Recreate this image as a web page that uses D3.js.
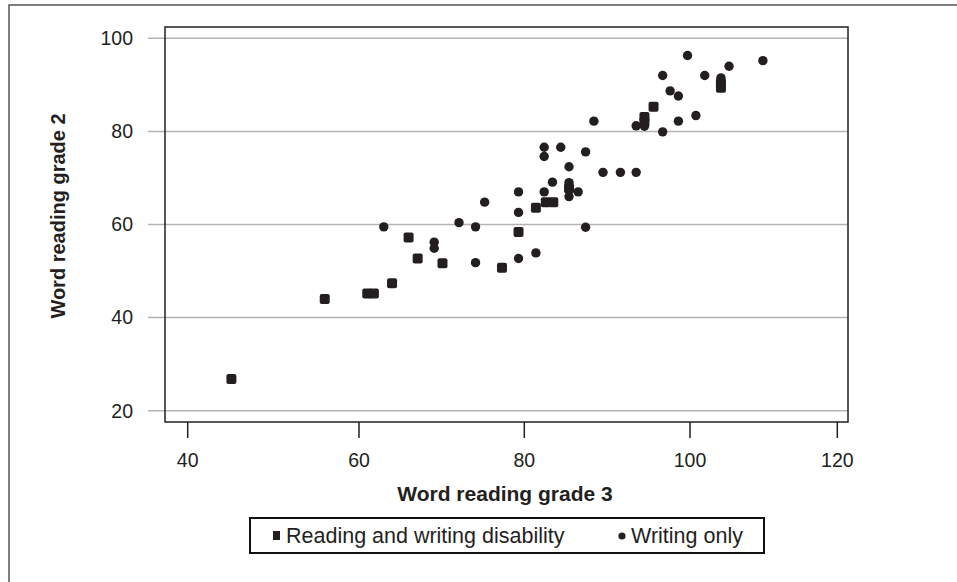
<!DOCTYPE html>
<html lang="en">
<head>
  <meta charset="UTF-8">
  <title>Word reading grade 2 vs grade 3</title>
  <script src="https://d3js.org/d3.v7.min.js"></script>
  <style>
    body { margin: 0; background: #fff; }
    svg { display: block; font-family: "Liberation Sans", Arial, sans-serif; fill: #231f20; }
    .grid line { stroke: #b3b3b3; stroke-width: 1.5px; }
    .frame { fill: none; stroke: #555; stroke-width: 1.5px; }
    .box { fill: none; stroke: #231f20; stroke-width: 1.5px; }
    .tick-x line { stroke: #231f20; stroke-width: 1.5px; }
    .tick-label { font-size: 19.5px; }
    .title { font-size: 20px; font-weight: bold; }
    .title.x-title { font-size: 21px; }
    .legend rect.bg { fill: #fff; stroke: #111; stroke-width: 2px; }
    .legend text { font-size: 21.5px; }
  </style>
</head>
<body>
  <script>
    const xTicks = [40, 60, 80, 100, 120];
    const yTicks = [20, 40, 60, 80, 100];

    // Reading and writing disability (squares)
    const rwdGrade3 = [45.1, 56.0, 61.0, 61.8, 64.0, 66.0, 67.1, 70.1, 77.3, 79.3, 81.4, 82.6, 83.5, 85.4, 94.5, 94.5, 95.6, 104.2, 104.2];
    const rwdGrade2 = [26.8, 44.0, 45.2, 45.2, 47.4, 57.2, 52.7, 51.7, 50.7, 58.4, 63.6, 64.8, 64.8, 67.8, 83.1, 82.0, 85.3, 90.4, 89.4];

    // Writing only (circles)
    const woGrade3 = [63.0, 69.1, 69.1, 72.1, 74.1, 74.1, 75.2, 79.3, 81.4, 87.4, 79.3, 79.3, 82.4, 83.4, 85.4, 86.5, 85.4, 82.4, 82.4, 84.4,
      87.4, 89.5, 91.6, 93.5, 88.4, 93.5, 94.5, 96.7, 98.6, 100.8, 97.6, 98.6, 96.7, 102.0, 99.7, 105.3, 109.9, 104.2, 85.4];
    const woGrade2 = [59.5, 56.2, 54.9, 60.4, 59.5, 51.8, 64.8, 52.7, 53.9, 59.4, 62.6, 67.0, 67.0, 69.1, 66.0, 67.0, 72.4, 76.6, 74.6, 76.6,
      75.6, 71.2, 71.2, 71.2, 82.2, 81.2, 81.1, 79.9, 82.2, 83.4, 88.7, 87.6, 92.0, 92.0, 96.3, 94.0, 95.2, 91.5, 69.0];

    const legendLabels = ["Reading and writing disability", "Writing only"];

    const width = 957, height = 582;
    const box = { left: 165, top: 27, right: 848, bottom: 422 };

    const svg = d3.select("body").append("svg")
      .attr("width", width)
      .attr("height", height);

    // the printed x axis is not evenly spaced, so map each tick to where it sits
    const x = d3.scaleLinear().domain(xTicks).range([187.7, 359, 524.3, 690, 837.3]);
    const y = d3.scaleLinear().domain([20, 100]).range([410.7, 38.3]);

    // outer frame (only top and left edges show)
    svg.append("path").attr("class", "frame").attr("d", `M9,${height} V5 H${width}`);

    // grid lines, which also act as the y ticks
    svg.append("g").attr("class", "grid")
      .selectAll("line").data(yTicks).join("line")
      .attr("x1", 148).attr("x2", box.right)
      .attr("y1", d => y(d)).attr("y2", d => y(d));

    svg.append("g")
      .selectAll("text").data(yTicks).join("text")
      .attr("class", "tick-label")
      .attr("x", 133).attr("y", d => y(d))
      .attr("dy", "0.35em")
      .attr("text-anchor", "end")
      .text(d => d);

    svg.append("rect").attr("class", "box")
      .attr("x", box.left).attr("y", box.top)
      .attr("width", box.right - box.left).attr("height", box.bottom - box.top);

    const xt = svg.append("g").attr("class", "tick-x")
      .selectAll("g").data(xTicks).join("g")
      .attr("transform", d => `translate(${x(d)},0)`);
    xt.append("line").attr("y1", box.bottom).attr("y2", box.bottom + 16);
    xt.append("text").attr("class", "tick-label")
      .attr("y", 467).attr("text-anchor", "middle")
      .text(d => d);

    // axis titles
    svg.append("text").attr("class", "title x-title")
      .attr("x", 505).attr("y", 501).attr("text-anchor", "middle")
      .text("Word reading grade 3");

    svg.append("text").attr("class", "title")
      .attr("transform", "translate(65,216) rotate(-90)")
      .attr("text-anchor", "middle")
      .text("Word reading grade 2");

    // points
    const squares = rwdGrade3.map((v, i) => [v, rwdGrade2[i]]);
    const circles = woGrade3.map((v, i) => [v, woGrade2[i]]);

    svg.append("g").selectAll("rect").data(squares).join("rect")
      .attr("x", d => x(d[0]) - 5).attr("y", d => y(d[1]) - 5)
      .attr("width", 10).attr("height", 10).attr("rx", 2);

    svg.append("g").selectAll("circle").data(circles).join("circle")
      .attr("cx", d => x(d[0])).attr("cy", d => y(d[1]))
      .attr("r", 4.7);

    // legend
    const lg = svg.append("g").attr("class", "legend");
    lg.append("rect").attr("class", "bg")
      .attr("x", 250).attr("y", 518).attr("width", 514).attr("height", 35);
    lg.append("rect").attr("x", 273).attr("y", 531).attr("width", 7).attr("height", 9);
    lg.append("text").attr("x", 286).attr("y", 543).text(legendLabels[0]);
    lg.append("circle").attr("cx", 622).attr("cy", 536).attr("r", 3.6);
    lg.append("text").attr("x", 631).attr("y", 543).text(legendLabels[1]);
  </script>
</body>
</html>
